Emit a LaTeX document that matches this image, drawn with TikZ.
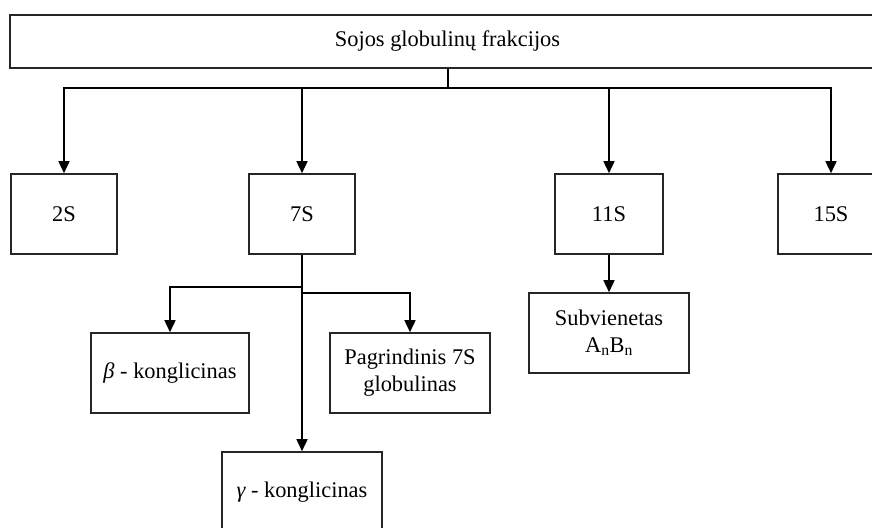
\documentclass[tikz,border=0pt]{standalone}
\usepackage{fontspec}
\setmainfont{Liberation Serif}
\usetikzlibrary{arrows.meta}
\begin{document}
\begin{tikzpicture}[x=1pt,y=-1pt,
  box/.style={draw=black!85,line width=1.6pt,inner sep=0pt,align=center,
    font=\fontsize{22.4}{27}\selectfont,minimum height=80pt},
  arr/.style={line width=1.6pt,-{Triangle[width=11pt,length=12pt]}},
  ln/.style={line width=1.6pt}]
\clip (0,0) rectangle (872,527);
\node[box,minimum width=875pt,minimum height=53pt] (top) at (447.5,41.5) {Sojos globulinų frakcijos};
\node[box,minimum width=106pt] (s2) at (64,214) {2S};
\node[box,minimum width=106pt] (s7) at (302,214) {7S};
\node[box,minimum width=108pt] (s11) at (609,214) {11S};
\node[box,minimum width=106pt] (s15) at (831,214) {15S};
\node[box,minimum width=158pt] (beta) at (170,373) {{\itshape β} - konglicinas};
\node[box,minimum width=160pt] (pag) at (410,373) {Pagrindinis 7S\\globulinas};
\node[box,minimum width=160pt] (gam) at (302,492) {{\itshape γ} - konglicinas};
\node[box,minimum width=160pt] (sub) at (609,333) {Subvienetas\\A\textsubscript{n}B\textsubscript{n}};
\coordinate (hub) at (448,88);
\draw[ln] (top.south -| hub) -- (hub);
\draw[arr] (hub) -| (s2.north);
\draw[arr] (hub) -| (s7.north);
\draw[arr] (hub) -| (s11.north);
\draw[arr] (hub) -| (s15.north);
\draw[arr] (s7.south) -- (gam.north);
\coordinate (b1) at (302,287);
\coordinate (b2) at (302,293);
\draw[arr] (b1) -| (beta.north);
\draw[arr] (b2) -| (pag.north);
\draw[arr] (s11.south) -- (sub.north);
\end{tikzpicture}
\end{document}
